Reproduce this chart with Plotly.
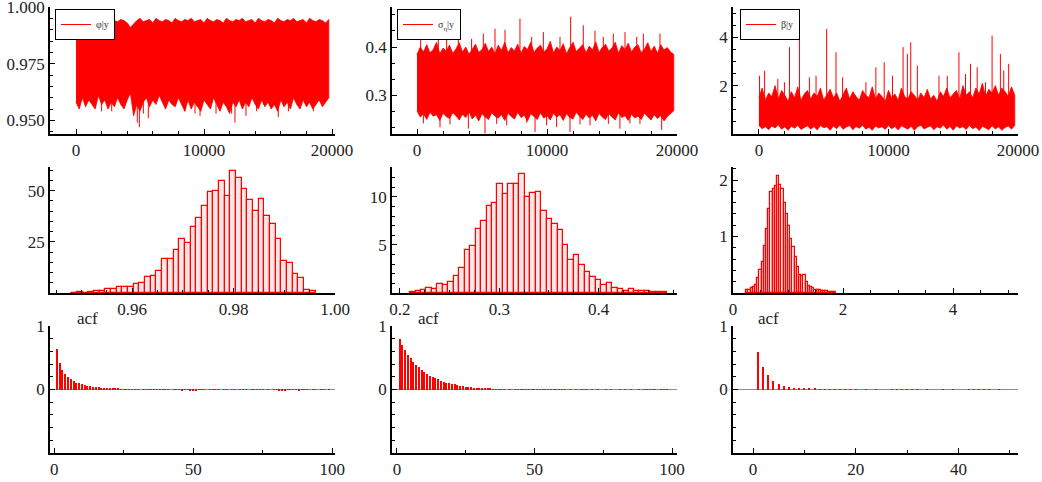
import numpy as np
import plotly.graph_objects as go

W, H = 1042, 482
RED = "#ff0000"
FONT = "Liberation Serif, Times New Roman, Times, serif"

# ---------------- data ----------------
# trace plots: iteration grid, edges of the dense band, and isolated spikes
trace_iter = list(range(0, 20000, 250))

phi_core_hi = [0.994,0.9935,0.995,0.993,0.9945,0.994,0.995,0.9935,0.994,0.9945,
               0.993,0.995,0.994,0.9935,0.9945,0.994,0.993,0.991,0.9925,0.994,
               0.995,0.9935,0.994,0.9945,0.993,0.995,0.994,0.9935,0.9945,0.994,
               0.993,0.995,0.994,0.9935,0.9945,0.994,0.995,0.9935,0.994,0.9945,
               0.993,0.995,0.994,0.9935,0.9945,0.994,0.993,0.995,0.994,0.9935,
               0.9945,0.994,0.995,0.9935,0.994,0.9945,0.993,0.995,0.994,0.9935,
               0.9945,0.994,0.993,0.995,0.994,0.9935,0.9945,0.994,0.995,0.9935,
               0.994,0.9945,0.993,0.995,0.994,0.9935,0.9945,0.994,0.993,0.9945]
phi_core_lo = [0.958,0.955,0.960,0.956,0.959,0.957,0.955,0.961,0.957,0.959,
               0.955,0.958,0.956,0.960,0.957,0.955,0.959,0.962,0.952,0.957,
               0.954,0.958,0.960,0.956,0.959,0.957,0.961,0.958,0.955,0.959,
               0.957,0.956,0.960,0.957,0.954,0.959,0.955,0.958,0.956,0.954,
               0.959,0.957,0.955,0.960,0.957,0.954,0.958,0.956,0.953,0.958,
               0.956,0.959,0.955,0.958,0.956,0.960,0.957,0.955,0.959,0.956,
               0.958,0.955,0.957,0.954,0.959,0.956,0.958,0.955,0.960,0.957,
               0.955,0.959,0.956,0.958,0.955,0.957,0.959,0.956,0.958,0.960]
phi_spike_iter = [2000,2790,4790,4950,5260,5650,8510,9300,9690,10940,12160,12420,13280,14110,15800,16590,18540]
phi_spike_val = [0.954,0.954,0.949,0.947,0.953,0.951,0.954,0.953,0.952,0.953,0.953,0.949,0.952,0.954,0.9515,0.954,0.954]

sig_core_hi = [0.385,0.40,0.39,0.405,0.388,0.395,0.41,0.386,0.398,0.392,
               0.404,0.387,0.396,0.409,0.39,0.40,0.385,0.397,0.406,0.389,
               0.395,0.408,0.391,0.40,0.386,0.404,0.393,0.41,0.388,0.399,
               0.392,0.406,0.387,0.401,0.395,0.41,0.389,0.398,0.404,0.39,
               0.396,0.412,0.388,0.40,0.393,0.407,0.386,0.399,0.41,0.391,
               0.397,0.405,0.388,0.402,0.394,0.411,0.389,0.399,0.406,0.392,
               0.398,0.41,0.387,0.403,0.395,0.408,0.39,0.40,0.405,0.388,
               0.396,0.409,0.391,0.402,0.387,0.405,0.394,0.399,0.39,0.385]
sig_core_lo = [0.268,0.255,0.262,0.25,0.265,0.257,0.26,0.248,0.263,0.256,
               0.252,0.264,0.258,0.249,0.261,0.254,0.266,0.251,0.259,0.247,
               0.262,0.255,0.25,0.264,0.257,0.253,0.26,0.248,0.263,0.256,
               0.251,0.265,0.254,0.259,0.247,0.262,0.256,0.25,0.264,0.253,
               0.258,0.249,0.263,0.255,0.26,0.248,0.262,0.254,0.251,0.265,
               0.257,0.25,0.261,0.253,0.259,0.247,0.263,0.255,0.25,0.262,
               0.256,0.249,0.264,0.254,0.258,0.248,0.261,0.253,0.257,0.25,
               0.263,0.255,0.249,0.26,0.252,0.258,0.247,0.256,0.262,0.268]
sig_spike_iter = [280,1640,2280,3180,4200,5100,6000,6770,7920,8820,9720,11000,11820,12790,13690,14330,15100,16000,16900,17410,18690,
                  490,1770,2540,3950,5230,6130,6900,8440,9080,9970,10740,11770,12540,13310,14720,15610,16380,17150,18820]
sig_spike_val = [0.434,0.431,0.421,0.421,0.417,0.428,0.438,0.436,0.459,0.421,0.431,0.421,0.463,0.445,0.434,0.421,0.428,0.431,0.421,0.428,0.428,
                 0.242,0.234,0.24,0.231,0.221,0.241,0.238,0.243,0.224,0.238,0.234,0.224,0.24,0.238,0.241,0.231,0.242,0.241,0.228]

beta_core_hi = [1.5,1.9,1.4,1.7,1.55,2.0,1.45,1.8,1.6,1.35,
                1.75,1.5,1.95,1.4,1.65,1.8,1.45,1.7,1.55,1.9,
                1.4,1.6,1.85,1.5,1.7,1.35,1.65,1.9,1.45,1.75,
                1.55,1.4,1.8,1.6,1.5,1.95,1.45,1.7,1.55,1.35,
                1.8,1.5,1.65,1.4,1.9,1.55,1.45,1.75,1.6,1.4,
                1.7,1.5,1.85,1.45,1.6,1.35,1.75,1.55,1.9,1.5,
                1.65,1.8,1.45,2.0,1.6,1.75,1.5,1.9,1.65,2.1,
                1.55,1.85,1.7,2.0,1.6,1.9,1.75,1.55,1.95,1.6]
beta_core_lo = [0.35,0.22,0.3,0.18,0.33,0.25,0.38,0.2,0.3,0.15,
                0.32,0.24,0.36,0.19,0.28,0.34,0.2,0.31,0.17,0.35,
                0.26,0.3,0.16,0.33,0.22,0.37,0.2,0.29,0.35,0.18,
                0.31,0.24,0.36,0.2,0.28,0.15,0.33,0.25,0.3,0.19,
                0.35,0.22,0.31,0.17,0.34,0.26,0.2,0.32,0.15,0.3,
                0.36,0.21,0.28,0.33,0.18,0.3,0.24,0.37,0.2,0.31,
                0.16,0.34,0.25,0.3,0.19,0.35,0.22,0.29,0.14,0.32,
                0.26,0.18,0.34,0.21,0.3,0.15,0.27,0.33,0.2,0.36]
beta_spike_iter = [50,440,1460,1970,2360,3130,3900,4410,5230,5950,6460,8260,9030,9670,10310,11130,11460,11720,12230,
                   13900,14540,15440,15950,16330,16850,17490,18000,18640,18900,19280]
beta_spike_val = [2.41,2.62,2.28,2.14,3.59,4.9,2.34,2.41,4.34,3.38,2.34,2.14,2.76,2.97,2.41,3.59,3.31,3.79,2.83,
                  2.41,2.41,3.38,2.48,2.9,2.76,2.14,4.07,3.31,2.62,2.9]

# histograms (density), uniform bins: first left edge, bin width, heights
phi_hist_start, phi_hist_width = 0.948, 0.00112
phi_hist = [0.2,0.3,0.2,0.7,0.9,1.1,1.8,1.9,3.1,2.8,3.0,4.2,4.7,7.8,8.1,10.5,16.4,16.7,21,26.3,24.2,32,36.4,42.5,49.2,50,54.7,
            47.2,59.4,56.3,50.8,45.3,39.8,46.1,37.5,33.9,26.3,15.6,14.5,9.4,7.3,1.6,0.8]
sig_hist_start, sig_hist_width = 0.2102, 0.0055
sig_hist = [0.07,0.2,0.35,0.5,0.45,0.97,0.83,1.14,1.8,2.65,4.5,4.9,6.7,7.5,9.0,9.4,11.3,10.3,11.3,11.3,12.4,10.0,10.4,10.5,8.55,
            7.65,7.2,6.5,5.0,3.45,4.0,2.9,2.17,1.65,1.38,0.86,1.03,0.52,0.45,0.24,0.45,0.24,0.24,0.24,0.07,0.07,0.07]
beta_hist_start, beta_hist_width = 0.24, 0.04
beta_hist = [0.06,0.06,0.08,0.1,0.14,0.26,0.4,0.55,0.84,1.13,1.49,1.78,1.84,1.9,2.07,1.92,1.84,1.6,1.4,1.19,0.96,0.81,0.64,0.46,
             0.32,0.3,0.32,0.2,0.12,0.11,0.08,0.06,0.06,0.05,0.035,0.035,0.03,0.02,0.02,0.015,0.01]

# autocorrelations, lag 1 onwards
phi_acf = [0.63,0.42,0.31,0.24,0.19,0.16,0.13,0.11,0.095,0.08,0.07,0.06,0.052,0.045,0.04,0.034,0.03,0.025,0.02,0.016,
           0.012,0.01,0.008,0.006,0.005,0.004,0.003,0.002,0.002,0.001,0.0,-0.002,0.001,-0.003,0.002,0.004,0.006,0.004,0.001,-0.002,
           -0.003,0.0,0.002,-0.004,-0.006,-0.008,-0.007,-0.006,-0.008,-0.01,-0.008,-0.006,-0.004,-0.002,0.0,0.002,0.001,-0.002,-0.003,0.0,
           0.003,0.002,0.0,-0.002,-0.003,0.0,0.002,0.001,-0.001,0.0,0.002,0.001,-0.002,-0.003,-0.002,0.0,0.002,0.0,-0.004,-0.006,
           -0.008,-0.01,-0.009,-0.007,-0.005,-0.004,-0.006,-0.008,-0.006,-0.004,-0.002,0.0,0.002,0.001,0.0,0.001,0.002,0.0,-0.001,0.0]
sig_acf = [0.80,0.70,0.62,0.55,0.49,0.44,0.39,0.35,0.31,0.28,0.25,0.22,0.20,0.18,0.16,0.14,0.125,0.11,0.10,0.09,
           0.08,0.07,0.06,0.052,0.045,0.04,0.034,0.03,0.025,0.02,0.016,0.013,0.01,0.008,0.006,0.004,0.003,0.002,0.001,0.0,
           -0.001,0.0,0.001,-0.002,-0.003,-0.004,-0.005,-0.006,-0.007,-0.006,-0.005,-0.006,-0.007,-0.006,-0.005,-0.004,-0.005,-0.004,-0.003,-0.002,
           -0.001,0.0,0.001,0.0,-0.001,0.0,0.001,0.002,0.001,0.0,-0.001,0.0,0.001,0.0,0.0,-0.001,0.0,0.001,0.0,0.0,
           0.001,0.0,-0.001,0.0,0.001,0.0,0.0,-0.001,0.0,0.001,0.002,0.003,0.002,0.001,0.0,0.001,0.002,0.001,0.0,0.0]
beta_acf = [0.59,0.35,0.23,0.14,0.085,0.055,0.04,0.025,0.018,0.014,0.01,0.008,0.006,0.004,0.003,0.002,0.001,0.002,0.003,0.001,
            0.0,-0.001,0.0,0.001,0.0,0.0,-0.001,-0.002,-0.004,-0.005,-0.004,-0.002,0.0,0.001,0.0,0.0,-0.001,0.0,0.001,0.0,
            0.0,-0.001,-0.002,-0.003,-0.002,-0.001,0.0,0.001,0.0,0.0]

names = ["φ|y", "σ<sub>η</sub>|y", "β|y"]

# ---------------- layout geometry (pixels) ----------------
cols = [(50, 335), (392, 677), (733, 1018)]
rows = [(7, 134), (167, 293), (326, 453)]

fig = go.Figure()

def axn(i):
    return "" if i == 1 else str(i)

def axis_common():
    return dict(showline=True, linecolor="black", linewidth=1.5, mirror=False,
                showgrid=False, zeroline=False, ticks="inside", ticklen=5, tickwidth=1,
                tickcolor="black", tickfont=dict(family=FONT, size=17, color="#222"),
                fixedrange=True, automargin=False, ticklabeloverflow="allow")

# ---- traces (row 0) ----
trace_sets = [
    (phi_core_hi, phi_core_lo, phi_spike_iter, phi_spike_val),
    (sig_core_hi, sig_core_lo, sig_spike_iter, sig_spike_val),
    (beta_core_hi, beta_core_lo, beta_spike_iter, beta_spike_val),
]
legend_keys = ["legend", "legend2", "legend3"]
for c, (hi, lo, si, sv) in enumerate(trace_sets):
    i = c + 1
    xs = trace_iter + trace_iter[::-1]
    ys = hi + lo[::-1]
    fig.add_trace(go.Scatter(x=xs, y=ys, fill="toself", fillcolor=RED, mode="lines",
                             line=dict(color=RED, width=0.8), showlegend=False,
                             xaxis="x" + axn(i), yaxis="y" + axn(i), hoverinfo="skip"))
    mid = np.interp(si, trace_iter, (np.array(hi) + np.array(lo)) / 2)
    sx, sy = [], []
    for it, base, v in zip(si, mid, sv):
        sx += [it, it, None]
        sy += [base, v, None]
    fig.add_trace(go.Scatter(x=sx, y=sy, mode="lines", line=dict(color=RED, width=1),
                             name=names[c], legend=legend_keys[c], showlegend=True,
                             xaxis="x" + axn(i), yaxis="y" + axn(i), hoverinfo="skip"))

# ---- histograms (row 1) ----
hist_sets = [(phi_hist_start, phi_hist_width, phi_hist),
             (sig_hist_start, sig_hist_width, sig_hist),
             (beta_hist_start, beta_hist_width, beta_hist)]
for c, (st, wd, hv) in enumerate(hist_sets):
    i = 4 + c
    centers = [st + (k + 0.5) * wd for k in range(len(hv))]
    fig.add_trace(go.Bar(x=centers, y=hv, width=wd,
                         marker=dict(color="rgba(255,0,0,0.10)", line=dict(color=RED, width=1.2)),
                         showlegend=False, xaxis="x" + axn(i), yaxis="y" + axn(i), hoverinfo="skip"))

# ---- acf (row 2) ----
acf_sets = [(phi_acf, 0.4), (sig_acf, 0.4), (beta_acf, 0.25)]
for c, (av, bw) in enumerate(acf_sets):
    i = 7 + c
    lags = list(range(1, len(av) + 1))
    fig.add_trace(go.Bar(x=lags, y=av, width=bw, marker=dict(color=RED, line=dict(width=0)),
                         showlegend=False, xaxis="x" + axn(i), yaxis="y" + axn(i), hoverinfo="skip"))

# ---------------- axes ----------------
big = ["0", "10000", "20000"]
x_specs = [
    dict(range=[-2031, 20234], tickvals=[0, 10000, 20000], ticktext=big, minor=dict(dtick=2000)),
    dict(range=[-1923, 20000], tickvals=[0, 10000, 20000], ticktext=big, minor=dict(dtick=2000)),
    dict(range=[-2000, 20000], tickvals=[0, 10000, 20000], ticktext=big, minor=dict(dtick=2000)),
    dict(range=[0.9438, 1.0], tickvals=[0.96, 0.98, 1.0], ticktext=["0.96", "0.98", "1.00"], minor=dict(dtick=0.005)),
    dict(range=[0.192, 0.479], tickvals=[0.2, 0.3, 0.4], ticktext=["0.2", "0.3", "0.4"], minor=dict(dtick=0.025)),
    dict(range=[0, 5.18], tickvals=[0, 2, 4], minor=dict(dtick=0.5)),
    dict(range=[-1.5, 101], tickvals=[0, 50, 100], minor=dict(dtick=25)),
    dict(range=[-1.8, 101.8], tickvals=[0, 50, 100], minor=dict(dtick=25)),
    dict(range=[-3.9, 51.6], tickvals=[0, 20, 40], minor=dict(dtick=10)),
]
y_specs = [
    dict(range=[0.944, 1.0], tickvals=[0.95, 0.975, 1.0], ticktext=["0.950", "0.975", "1.000"], minor=dict(dtick=0.005)),
    dict(range=[0.22, 0.483], tickvals=[0.3, 0.4], ticktext=["0.3", "0.4"], minor=dict(dtick=0.1 / 3, tick0=0.3)),
    dict(range=[0, 5.25], tickvals=[2, 4], minor=dict(dtick=0.5)),
    dict(range=[0, 61.5], tickvals=[25, 50], minor=dict(dtick=5)),
    dict(range=[0, 13.1], tickvals=[5, 10], minor=dict(dtick=1)),
    dict(range=[0, 2.23], tickvals=[1, 2], minor=dict(dtick=0.2)),
    dict(range=[-1, 1], tickvals=[0, 1], minor=dict(dtick=0.2)),
    dict(range=[-1, 1], tickvals=[0, 1], minor=dict(dtick=0.2)),
    dict(range=[-1, 1], tickvals=[0, 1], minor=dict(dtick=0.2)),
]

layout = {}
for r in range(3):
    for c in range(3):
        i = r * 3 + c + 1
        x0, x1 = cols[c]
        y0, y1 = rows[r]
        xa = axis_common()
        xa.update(domain=[x0 / W, x1 / W], anchor="y" + axn(i))
        xs = dict(x_specs[i - 1])
        mn = xs.pop("minor")
        xa.update(xs)
        xa["minor"] = dict(ticks="inside", ticklen=3, tickcolor="black", tickwidth=1, **mn)
        ya = axis_common()
        ya.update(domain=[1 - y1 / H, 1 - y0 / H], anchor="x" + axn(i))
        ys = dict(y_specs[i - 1])
        mn = ys.pop("minor")
        ya.update(ys)
        ya["minor"] = dict(ticks="inside", ticklen=3, tickcolor="black", tickwidth=1, **mn)
        if r == 2:
            ya.update(zeroline=True, zerolinecolor="#8c8c8c", zerolinewidth=1.2)
        layout["xaxis" + axn(i)] = xa
        layout["yaxis" + axn(i)] = ya

leg_x = [55, 397, 740]
for c in range(3):
    layout[legend_keys[c]] = dict(x=leg_x[c] / W, y=1 - 9 / H, xanchor="left", yanchor="top",
                                  bgcolor="white", bordercolor="black", borderwidth=1,
                                  font=dict(family=FONT, size=10, color="#333"),
                                  itemwidth=30, tracegroupgap=0)

acf_x = [87, 428, 768]
annotations = [dict(text="acf", x=acf_x[c] / W, y=1 - 318 / H, xref="paper", yref="paper",
                    showarrow=False, font=dict(family=FONT, size=17, color="#222"),
                    xanchor="center", yanchor="middle") for c in range(3)]

fig.update_layout(width=W, height=H, margin=dict(l=0, r=0, t=0, b=0, pad=0, autoexpand=False),
                  paper_bgcolor="white", plot_bgcolor="white", bargap=0,
                  font=dict(family=FONT),
                  annotations=annotations, **layout)

fig.write_html("out.html")
